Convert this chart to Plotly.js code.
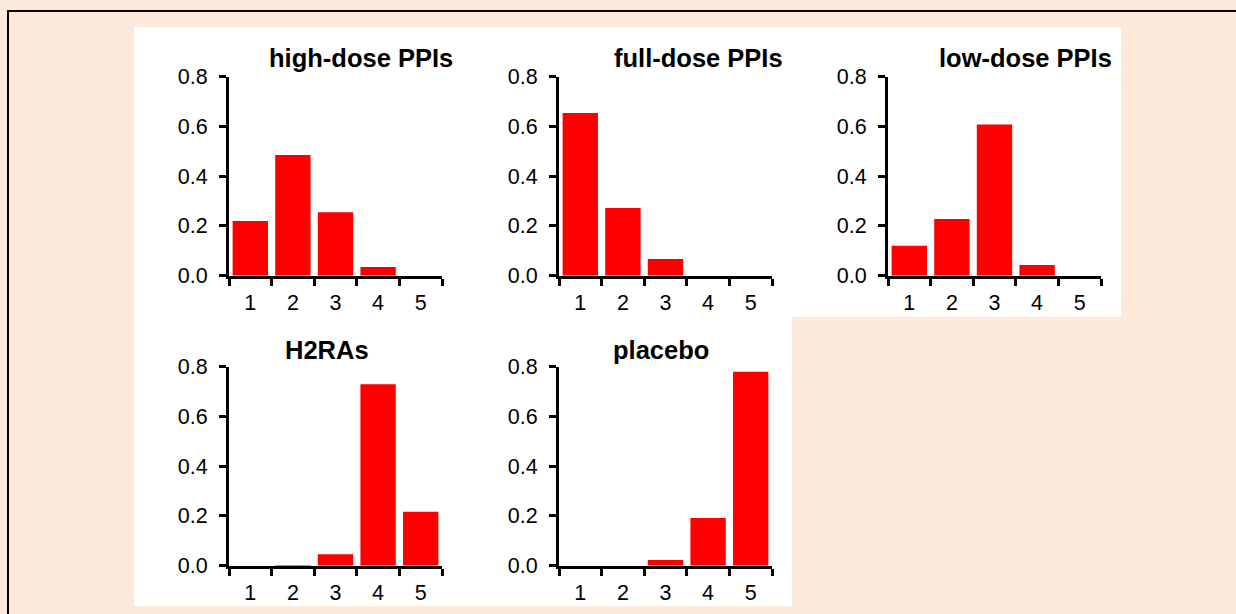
<!DOCTYPE html>
<html>
<head>
<meta charset="utf-8">
<script src="https://cdn.plot.ly/plotly-3.0.1.min.js"></script>
<style>
html,body{margin:0;padding:0;background:#FDE9DB;overflow:hidden;}
#wrap{position:relative;width:1236px;height:614px;}
#chart{width:1236px;height:614px;}
#frame{position:absolute;left:7px;top:10px;width:1300px;height:700px;border-top:2px solid #000;border-left:2px solid #000;pointer-events:none;}
</style>
</head>
<body>
<div id="wrap">
<div id="chart"></div>
<div id="frame"></div>
</div>
<script>
// ---- data ----
const categories = ['1', '2', '3', '4', '5'];
const panelTitles = ['high-dose PPIs', 'full-dose PPIs', 'low-dose PPIs', 'H2RAs', 'placebo'];
const highDosePPIs = [0.22, 0.485, 0.255, 0.035, 0.0];
const fullDosePPIs = [0.654, 0.272, 0.067, 0.0, 0.0];
const lowDosePPIs  = [0.12, 0.228, 0.608, 0.043, 0.0];
const h2ras        = [0.0, 0.003, 0.046, 0.729, 0.217];
const placebo      = [0.0, 0.0, 0.023, 0.192, 0.78];
const yTickVals = [0, 0.2, 0.4, 0.6, 0.8];

const series = [highDosePPIs, fullDosePPIs, lowDosePPIs, h2ras, placebo];

// ---- layout geometry (pixels) ----
const W = 1236, H = 614;
const px = v => v / W;
const py = v => 1 - v / H;
// x domain [left,right], y domain [top,bottom] in px
const panels = [
  {x: [229, 442], y: [76.7, 275.7], tx: 361, ty: 58},
  {x: [559, 772], y: [76.7, 275.7], tx: 698, ty: 58},
  {x: [888, 1101], y: [76.7, 275.7], tx: 1025, ty: 58},
  {x: [229, 442], y: [366.7, 565.7], tx: 327, ty: 350},
  {x: [559, 772], y: [366.7, 565.7], tx: 661, ty: 350}
];

const FONT = 'Liberation Sans, Arial, Helvetica, sans-serif';
const TICKSIZE = 21.5;
const traces = [];
const layout = {
  width: W, height: H,
  margin: {l: 0, r: 0, t: 0, b: 0},
  paper_bgcolor: '#FDE9DB',
  plot_bgcolor: 'rgba(0,0,0,0)',
  showlegend: false,
  bargap: 0.17,
  font: {family: FONT, color: '#000', size: TICKSIZE},
  shapes: [
    {type: 'rect', xref: 'paper', yref: 'paper', x0: px(134), x1: px(1121), y0: py(27), y1: py(317), fillcolor: '#FFFFFF', line: {width: 0}, layer: 'below'},
    {type: 'rect', xref: 'paper', yref: 'paper', x0: px(134), x1: px(792), y0: py(317), y1: py(606), fillcolor: '#FFFFFF', line: {width: 0}, layer: 'below'}
  ],
  annotations: []
};

panels.forEach((p, i) => {
  const n = i === 0 ? '' : String(i + 1);
  traces.push({
    type: 'bar',
    x: categories,
    y: series[i],
    xaxis: 'x' + n,
    yaxis: 'y' + n,
    marker: {color: '#FF0000', line: {width: 0}},
    hoverinfo: 'x+y'
  });
  layout['xaxis' + n] = {
    domain: [px(p.x[0]), px(p.x[1])],
    anchor: 'y' + n,
    type: 'category',
    tickson: 'boundaries',
    ticks: 'outside',
    ticklen: 7,
    tickwidth: 3,
    tickcolor: '#000',
    ticklabelstandoff: 5,
    showline: true,
    linewidth: 3,
    linecolor: '#000',
    showgrid: false,
    zeroline: false,
    tickfont: {family: FONT, size: TICKSIZE, color: '#000'},
    fixedrange: true
  };
  layout['yaxis' + n] = {
    domain: [py(p.y[1]), py(p.y[0])],
    anchor: 'x' + n,
    range: [0, 0.8],
    tickvals: yTickVals,
    tickformat: '.1f',
    ticks: 'outside',
    ticklen: 7,
    tickwidth: 3,
    tickcolor: '#000',
    ticklabelstandoff: 7,
    showline: true,
    linewidth: 3,
    linecolor: '#000',
    showgrid: false,
    zeroline: false,
    tickfont: {family: FONT, size: TICKSIZE, color: '#000'},
    fixedrange: true
  };
  layout.annotations.push({
    text: '<b>' + panelTitles[i] + '</b>',
    xref: 'paper', yref: 'paper',
    x: px(p.tx), y: py(p.ty),
    xanchor: 'center', yanchor: 'middle',
    showarrow: false,
    font: {family: FONT, size: 25.5, color: '#000'}
  });
});

Plotly.newPlot('chart', traces, layout, {displayModeBar: false, staticPlot: true});
</script>
</body>
</html>
